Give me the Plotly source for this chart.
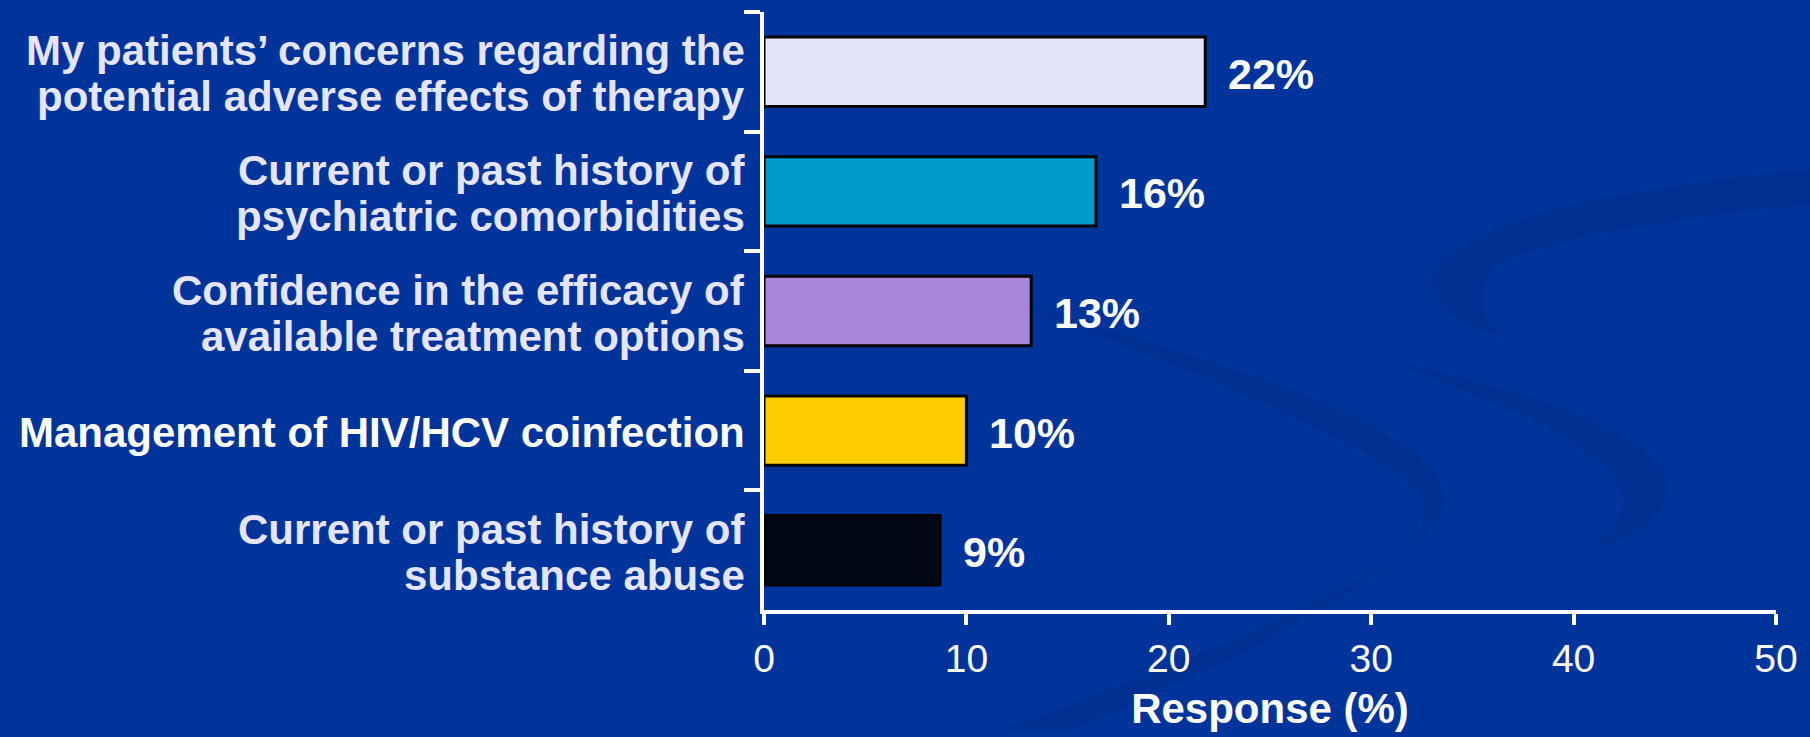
import plotly.graph_objects as go

# Survey responses: factors influencing HCV treatment decisions
categories = [
    "My patients’ concerns regarding the potential adverse effects of therapy",
    "Current or past history of psychiatric comorbidities",
    "Confidence in the efficacy of available treatment options",
    "Management of HIV/HCV coinfection",
    "Current or past history of substance abuse",
]
# the category text split over the lines it is printed on
label_lines = [
    ["My patients’ concerns regarding the", "potential adverse effects of therapy"],
    ["Current or past history of", "psychiatric comorbidities"],
    ["Confidence in the efficacy of", "available treatment options"],
    ["Management of HIV/HCV coinfection"],
    ["Current or past history of", "substance abuse"],
]
responses = [21.8, 16.4, 13.2, 10.0, 8.7]
bar_colors = ["#E4E4FC", "#009BCB", "#A985DC", "#FFCC00", "#000814"]
label_colors = ["#E4E4FA", "#E4E4FA", "#E4E4FA", "#FFFFFF", "#E4E4FA"]
x_ticks = [0, 10, 20, 30, 40, 50]

BG = "#00349A"
SWOOSH = "#00308E"
FONT = "Liberation Sans, Arial, sans-serif"

W, H = 1810, 737
M_L, M_R, M_T, M_B = 764, 34, 12, 122
PLOT_W = W - M_L - M_R
PLOT_H = H - M_T - M_B

fig = go.Figure()
fig.add_trace(go.Bar(
    x=responses,
    y=categories,
    orientation="h",
    width=0.58,
    marker=dict(color=bar_colors, line=dict(color="#000000", width=3)),
    hoverinfo="skip",
))

# value labels to the right of each bar
for cat, val in zip(categories, responses):
    fig.add_annotation(
        x=val, y=cat, xref="x", yref="y",
        text=f"<b>{val:.0f}%</b>", showarrow=False,
        xanchor="left", yanchor="middle", xshift=21, yshift=-2,
        font=dict(family=FONT, size=43, color="#FFFFFF"),
    )

# category labels, right-aligned against the axis, with tight line spacing
LINE_GAP = 46
for cat, lines, col in zip(categories, label_lines, label_colors):
    n = len(lines)
    for i, line in enumerate(lines):
        offset = ((n - 1) / 2 - i) * LINE_GAP
        fig.add_annotation(
            x=0, y=cat, xref="paper", yref="y",
            text=f"<b>{line}</b>", showarrow=False,
            xanchor="right", yanchor="middle",
            xshift=-17, yshift=offset - 2,
            font=dict(family=FONT, size=42, color=col),
        )


def to_paper(points):
    """Convert pixel points on the page into a paper-referenced SVG path."""
    out = []
    for cmd, coords in points:
        parts = []
        for px, py in coords:
            parts.append(f"{(px - M_L) / PLOT_W:.4f},{(H - M_B - py) / PLOT_H:.4f}")
        out.append(cmd + " " + " ".join(parts))
    return " ".join(out) + " Z"


# faint decorative swooshes in the background
swooshes = [
    [("M", [(1810, 170)]),
     ("C", [(1600, 192), (1440, 228), (1432, 284)]),
     ("C", [(1430, 312), (1470, 330), (1508, 342)]),
     ("C", [(1478, 320), (1470, 292), (1500, 266)]),
     ("C", [(1560, 236), (1700, 216), (1810, 206)])],
    [("M", [(1000, 300)]),
     ("C", [(1200, 360), (1420, 420), (1442, 492)]),
     ("C", [(1468, 545), (1300, 625), (1000, 737)]),
     ("L", [(1070, 737)]),
     ("C", [(1300, 640), (1430, 560), (1425, 510)]),
     ("C", [(1418, 470), (1250, 395), (1000, 300)])],
    [("M", [(1385, 362)]),
     ("C", [(1550, 400), (1664, 440), (1668, 490)]),
     ("C", [(1670, 520), (1632, 542), (1590, 556)]),
     ("C", [(1620, 530), (1630, 510), (1620, 490)]),
     ("C", [(1600, 450), (1500, 408), (1385, 362)])],
    [("M", [(1180, 208)]),
     ("L", [(1810, 112), (1810, 132), (1180, 232)])],
    [("M", [(1060, 737)]),
     ("L", [(1810, 545), (1810, 737)])],
]
for sw in swooshes:
    fig.add_shape(type="path", path=to_paper(sw), xref="paper", yref="paper",
                  fillcolor=SWOOSH, line=dict(width=0), layer="below",
                  opacity=0.65)

fig.update_layout(
    width=W, height=H,
    margin=dict(l=M_L, r=M_R, t=M_T, b=M_B),
    paper_bgcolor=BG, plot_bgcolor="rgba(0,0,0,0)",
    showlegend=False,
    font=dict(family=FONT, color="#FFFFFF"),
    xaxis=dict(
        range=[0, 50], tickvals=x_ticks,
        showline=True, linecolor="#FFFFFF", linewidth=4,
        ticks="outside", ticklen=11, tickwidth=4, tickcolor="#FFFFFF",
        showgrid=False, zeroline=False,
        tickfont=dict(family=FONT, size=39, color="#FFFFFF"),
        title=dict(text="<b>Response (%)</b>", standoff=16,
                   font=dict(family=FONT, size=42, color="#FFFFFF")),
    ),
    yaxis=dict(
        categoryorder="array", categoryarray=categories,
        autorange="reversed",
        tickson="boundaries", showticklabels=False,
        showline=True, linecolor="#FFFFFF", linewidth=4,
        ticks="outside", ticklen=16, tickwidth=4, tickcolor="#FFFFFF",
        showgrid=False, zeroline=False,
    ),
)

fig.write_html("out.html")
